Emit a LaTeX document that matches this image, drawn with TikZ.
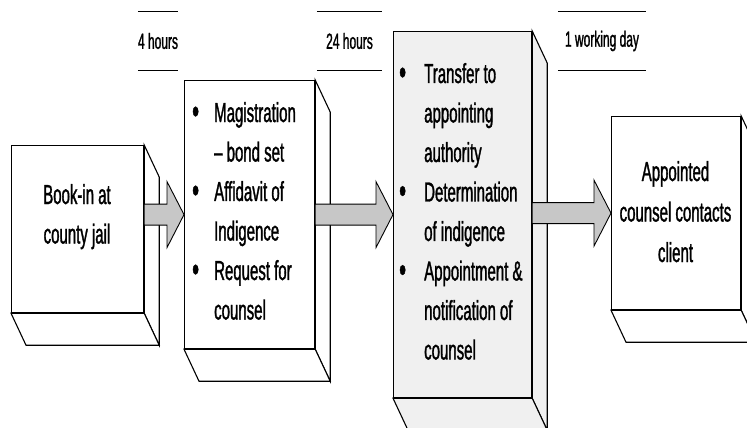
\documentclass[tikz,border=0pt]{standalone}
\usepackage{fontspec}
\setmainfont{Liberation Sans}[FakeStretch=0.545,FakeBold=1.2]
\usetikzlibrary{calc}

\newcommand\boxtext{\fontsize{27.5}{39.5}\selectfont}
\newcommand\timetext{\fontsize{22}{26}\selectfont}
\newcommand\itemdot{{\fontsize{36}{36}\selectfont\raisebox{-1.5pt}{\textbullet}}}

\begin{document}
\begin{tikzpicture}[x=1pt,y=-1pt,line join=miter]
\useasboundingbox (0,0) rectangle (747,428);
\tikzset{
  front/.style={draw,line width=1.2pt,inner sep=0pt,anchor=north west},
  face/.style={draw,line width=1.1pt},
  blockarrow/.style={draw,line width=0.9pt,fill=black!22,
    to path={let \p1=(\tikztostart), \p2=(\tikztotarget) in
      (\x1,{\y2+10.5pt}) -- ({\x2-17pt},{\y2+10.5pt}) -- ({\x2-17pt},{\y2+33pt})
      -- (\x2,\y2) -- ({\x2-17pt},{\y2-33pt}) -- ({\x2-17pt},{\y2-10.5pt})
      -- (\x1,{\y2-10.5pt}) -- cycle}},
  timelabel/.style={font=\timetext,inner sep=0pt,minimum height=58pt},
  bar/.style={line width=0.7pt}
}

% front faces of the four blocks
\node[front,minimum width=132pt,minimum height=167pt] (b1) at (11,145) {};
\node[front,minimum width=130pt,minimum height=268pt] (b2) at (184,80) {};
\node[front,minimum width=138pt,minimum height=366pt,fill=black!6] (b3) at (393,31) {};
\node[front,minimum width=129pt,minimum height=193pt] (b4) at (611,116) {};

% side and bottom faces (depth 15 right, 32 down)
\foreach \b/\f in {b1/white,b2/white,b3/black!6,b4/white}{
  \draw[face,fill=\f] (\b.north east) -- ++(15,32) -- ($(\b.south east)+(15,32)$)
    -- (\b.south east) -- cycle;
  \draw[face,fill=\f] (\b.south west) -- ++(15,32) -- ($(\b.south east)+(15,32)$)
    -- (\b.south east) -- cycle;
}

% block arrows between the stages
\draw[blockarrow] (b1.east) to (b2.west);
\draw[blockarrow] (b2.east) to (b3.west);
\draw[blockarrow] (b3.east) to (b4.west);

% block texts
\node[anchor=base,inner sep=0pt,font=\boxtext] (t1) at (77,204)
  {\begin{tabular}[t]{@{}c@{}}Book-in at\\county jail\end{tabular}};
\node[anchor=base west,inner sep=0pt,font=\boxtext] (t2) at (192,122)
  {\begin{tabular}[t]{@{}p{22pt}@{}l@{}}
   \itemdot & Magistration\\
            & -- bond set\\
   \itemdot & Affidavit of\\
            & Indigence\\
   \itemdot & Request for\\
            & counsel
  \end{tabular}};
\node[anchor=base west,inner sep=0pt,font=\boxtext] (t3) at (399,83)
  {\begin{tabular}[t]{@{}p{25pt}@{}l@{}}
   \itemdot & Transfer to\\
            & appointing\\
            & authority\\
   \itemdot & Determination\\
            & of indigence\\
   \itemdot & Appointment \&\\
            & notification of\\
            & counsel
  \end{tabular}};
\node[anchor=base,inner sep=0pt,font=\fontsize{27.5}{40.5}\selectfont] (t4) at (675.5,181)
  {\begin{tabular}[t]{@{}c@{}}Appointed\\counsel contacts\\client\end{tabular}};

% time limits between the stages
\node[timelabel,minimum width=40pt] (h1) at (158,41) {4 hours};
\node[timelabel,minimum width=65pt] (h2) at (349.5,41) {24 hours};
\node[timelabel,minimum width=88pt] (h3) at (602,41) {1 working day};
\foreach \h in {h1,h2,h3}{
  \draw[bar] (\h.north west) -- (\h.north east);
  \draw[bar] (\h.south west) -- (\h.south east);
}
\end{tikzpicture}
\end{document}
